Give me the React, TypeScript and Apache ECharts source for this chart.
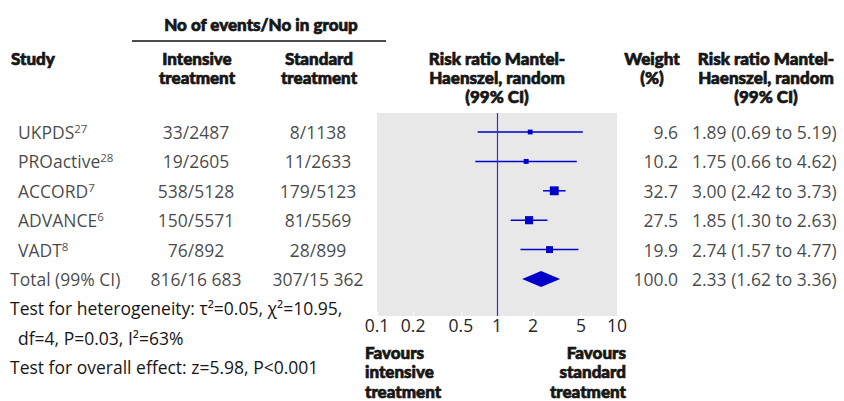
import React, { useEffect, useRef } from "react";
import * as echarts from "echarts";

// ---------- data ----------
const studies = ["UKPDS", "PROactive", "ACCORD", "ADVANCE", "VADT"];
const studyRefs = ["27", "28", "7", "6", "8"];
const intensiveEvents = ["33/2487", "19/2605", "538/5128", "150/5571", "76/892"];
const standardEvents = ["8/1138", "11/2633", "179/5123", "81/5569", "28/899"];
const weights = [9.6, 10.2, 32.7, 27.5, 19.9];
const riskRatio = [1.89, 1.75, 3.0, 1.85, 2.74];
const ciLower = [0.69, 0.66, 2.42, 1.3, 1.57];
const ciUpper = [5.19, 4.62, 3.73, 2.63, 4.77];

const totalLabel = "Total (99% CI)";
const totalIntensive = "816/16 683";
const totalStandard = "307/15 362";
const totalWeight = 100.0;
const totalRR = 2.33;
const totalLower = 1.62;
const totalUpper = 3.36;

const tickValues = [0.1, 0.2, 0.5, 1, 2, 5, 10];
const tickLabels = ["0.1", "0.2", "0.5", "1", "2", "5", "10"];

// ---------- styles ----------
const BLUE = "#0000c8";
const LINE_BLUE = "#2e2ee0";
const TEXT = "#161616";
const FONT = "'Open Sans', 'Noto Sans', sans-serif";
const HFONT = "Lato, 'Open Sans', sans-serif";
const FS = 17.5;
const HFS = 17;

const fmtRR = (r: number, l: number, u: number) =>
  `${r.toFixed(2)} (${l.toFixed(2)} to ${u.toFixed(2)})`;

export default function App() {
  const ref = useRef<HTMLDivElement>(null);

  useEffect(() => {
    if (!ref.current) return;
    const chart = echarts.init(ref.current, undefined, { renderer: "svg" });

    const rowTop = 113;
    const rowBottom = 316;
    const firstRow = 132;
    const rowStep = 29.4;
    const yMin = -(firstRow - rowTop) / rowStep;
    const yMax = (rowBottom - firstRow) / rowStep;
    const totalRow = studies.length;

    const tickLogs = tickValues.map((v) => Math.log10(v));
    const labelFor = (v: number) => {
      let best = 0;
      tickLogs.forEach((t, i) => {
        if (Math.abs(t - v) < Math.abs(tickLogs[best] - v)) best = i;
      });
      return tickLabels[best];
    };

    const studyData = studies.map((_, i) => [
      Math.log10(riskRatio[i]),
      Math.log10(ciLower[i]),
      Math.log10(ciUpper[i]),
      i,
      1.55 * Math.sqrt(weights[i]),
    ]);
    const totalData = [[Math.log10(totalRR), Math.log10(totalLower), Math.log10(totalUpper), totalRow]];

    const baseText = { fontFamily: FONT, fontSize: FS, color: TEXT };

    const textSeries = (
      items: { name: string; value: number[] }[],
      position: string,
      formatter?: (p: any) => string,
      rich?: any
    ) => ({
      type: "scatter",
      xAxisIndex: 1,
      yAxisIndex: 1,
      symbolSize: 0,
      silent: true,
      z: 5,
      data: items,
      label: {
        show: true,
        position,
        distance: 0,
        ...baseText,
        formatter: formatter || ((p: any) => p.name),
        rich,
      },
    });

    const colX = { study: 18, total: 10, intensive: 196, standard: 318, weight: 678, rr: 692 };

    const studyItems = studies.map((s, i) => ({ name: s, value: [colX.study, i] }));
    const totalNameItem = [{ name: totalLabel, value: [colX.total, totalRow] }];
    const intensiveItems = [...intensiveEvents, totalIntensive].map((s, i) => ({ name: s, value: [colX.intensive, i] }));
    const standardItems = [...standardEvents, totalStandard].map((s, i) => ({ name: s, value: [colX.standard, i] }));
    const weightItems = [...weights, totalWeight].map((w, i) => ({ name: w.toFixed(1), value: [colX.weight, i] }));
    const rrItems = [
      ...riskRatio.map((r, i) => fmtRR(r, ciLower[i], ciUpper[i])),
      fmtRR(totalRR, totalLower, totalUpper),
    ].map((s, i) => ({ name: s, value: [colX.rr, i] }));

    const txt = (text: string, x: number, y: number, align: string, bold: boolean, lh = 19) => ({
      type: "text",
      x,
      y,
      style: {
        text,
        fill: TEXT,
        stroke: bold ? TEXT : undefined,
        lineWidth: bold ? 0.7 : 0,
        fontWeight: bold ? 900 : "normal",
        fontSize: bold ? HFS : FS,
        fontFamily: bold ? HFONT : FONT,
        align,
        verticalAlign: "middle",
        lineHeight: lh,
      },
      silent: true,
    });

    chart.setOption({
      animation: false,
      backgroundColor: "#ffffff",
      grid: [
        { left: 377, top: rowTop, width: 240, height: rowBottom - rowTop, show: true, backgroundColor: "#e8e8e8", borderWidth: 0 },
        { left: 0, top: rowTop, width: 844, height: rowBottom - rowTop, show: false },
      ],
      xAxis: [
        {
          type: "value",
          gridIndex: 0,
          position: "bottom",
          min: -1,
          max: 1,
          axisLine: { show: false, onZero: false },
          splitLine: { show: false },
          axisTick: {
            show: true,
            inside: true,
            length: 4,
            customValues: tickLogs,
            lineStyle: { color: "#ffffff", width: 1 },
          },
          axisLabel: {
            customValues: tickLogs,
            formatter: (v: number) => labelFor(v),
            fontFamily: FONT,
            fontSize: FS,
            color: "#262626",
            margin: 0,
            showMinLabel: true,
            showMaxLabel: true,
          },
        },
        { type: "value", gridIndex: 1, min: 0, max: 844, show: false, axisLine: { onZero: false } },
      ],
      yAxis: [
        { type: "value", gridIndex: 0, inverse: true, min: yMin, max: yMax, show: false, axisLine: { onZero: false } },
        { type: "value", gridIndex: 1, inverse: true, min: yMin, max: yMax, show: false, axisLine: { onZero: false } },
      ],
      series: [
        {
          type: "custom",
          xAxisIndex: 0,
          yAxisIndex: 0,
          data: studyData,
          z: 3,
          renderItem: (_p: any, api: any) => {
            const y = api.value(3);
            const c = api.coord([api.value(0), y]);
            const l = api.coord([api.value(1), y]);
            const h = api.coord([api.value(2), y]);
            const s = api.value(4);
            return {
              type: "group",
              children: [
                { type: "line", shape: { x1: l[0], y1: l[1], x2: h[0], y2: h[1] }, style: { stroke: BLUE, lineWidth: 1.5 } },
                { type: "rect", shape: { x: c[0] - s / 2, y: c[1] - s / 2, width: s, height: s }, style: { fill: BLUE } },
              ],
            };
          },
          markLine: {
            silent: true,
            symbol: "none",
            label: { show: false },
            lineStyle: { color: LINE_BLUE, type: "solid", width: 1.2, opacity: 1 },
            emphasis: { disabled: true },
            data: [{ xAxis: Math.log10(1) }],
          },
        },
        {
          type: "custom",
          xAxisIndex: 0,
          yAxisIndex: 0,
          data: totalData,
          z: 3,
          renderItem: (_p: any, api: any) => {
            const y = api.value(3);
            const c = api.coord([api.value(0), y]);
            const l = api.coord([api.value(1), y]);
            const h = api.coord([api.value(2), y]);
            const hh = 8;
            return {
              type: "polygon",
              shape: { points: [[l[0], l[1]], [c[0], c[1] - hh], [h[0], h[1]], [c[0], c[1] + hh]] },
              style: { fill: BLUE },
            };
          },
        },
        textSeries(
          studyItems,
          "right",
          (p: any) => `{n|${p.name}}{s|${studyRefs[p.dataIndex]}}`,
          {
            n: { fontFamily: FONT, fontSize: FS, color: TEXT },
            s: { fontFamily: FONT, fontSize: 11.5, color: TEXT, verticalAlign: "top", padding: [0, 0, 7, 0] },
          }
        ),
        textSeries(totalNameItem, "right"),
        textSeries(intensiveItems, "inside"),
        textSeries(standardItems, "inside"),
        textSeries(weightItems, "left"),
        textSeries(rrItems, "right"),
      ],
      graphic: [
        txt("No of events/No in group", 261, 24, "center", true),
        { type: "line", shape: { x1: 132, y1: 41, x2: 386, y2: 41 }, style: { stroke: "#111", lineWidth: 1.5 }, silent: true },
        txt("Study", 11, 58, "left", true),
        txt("Intensive\ntreatment", 197, 67.5, "center", true, 19),
        txt("Standard\ntreatment", 319, 67.5, "center", true, 19),
        txt("Risk ratio Mantel-\nHaenszel, random\n(99% CI)", 497, 77, "center", true, 19),
        txt("Weight\n(%)", 652, 67.5, "center", true, 19),
        txt("Risk ratio Mantel-\nHaenszel, random\n(99% CI)", 766, 77, "center", true, 19),
        txt("Test for heterogeneity: \u03c4\u00b2=0.05, \u03c7\u00b2=10.95,", 10, 308, "left", false),
        txt("df=4, P=0.03, I\u00b2=63%", 18, 338, "left", false),
        txt("Test for overall effect: z=5.98, P<0.001", 10, 367, "left", false),
        txt("Favours\nintensive\ntreatment", 365, 371.5, "left", true, 19.5),
        txt("Favours\nstandard\ntreatment", 626, 371.5, "right", true, 19.5),
      ],
    });

    return () => chart.dispose();
  }, []);

  return (
    <div
      ref={ref}
      style={{ position: "absolute", left: 0, top: 0, width: 844, height: 401 }}
    />
  );
}
